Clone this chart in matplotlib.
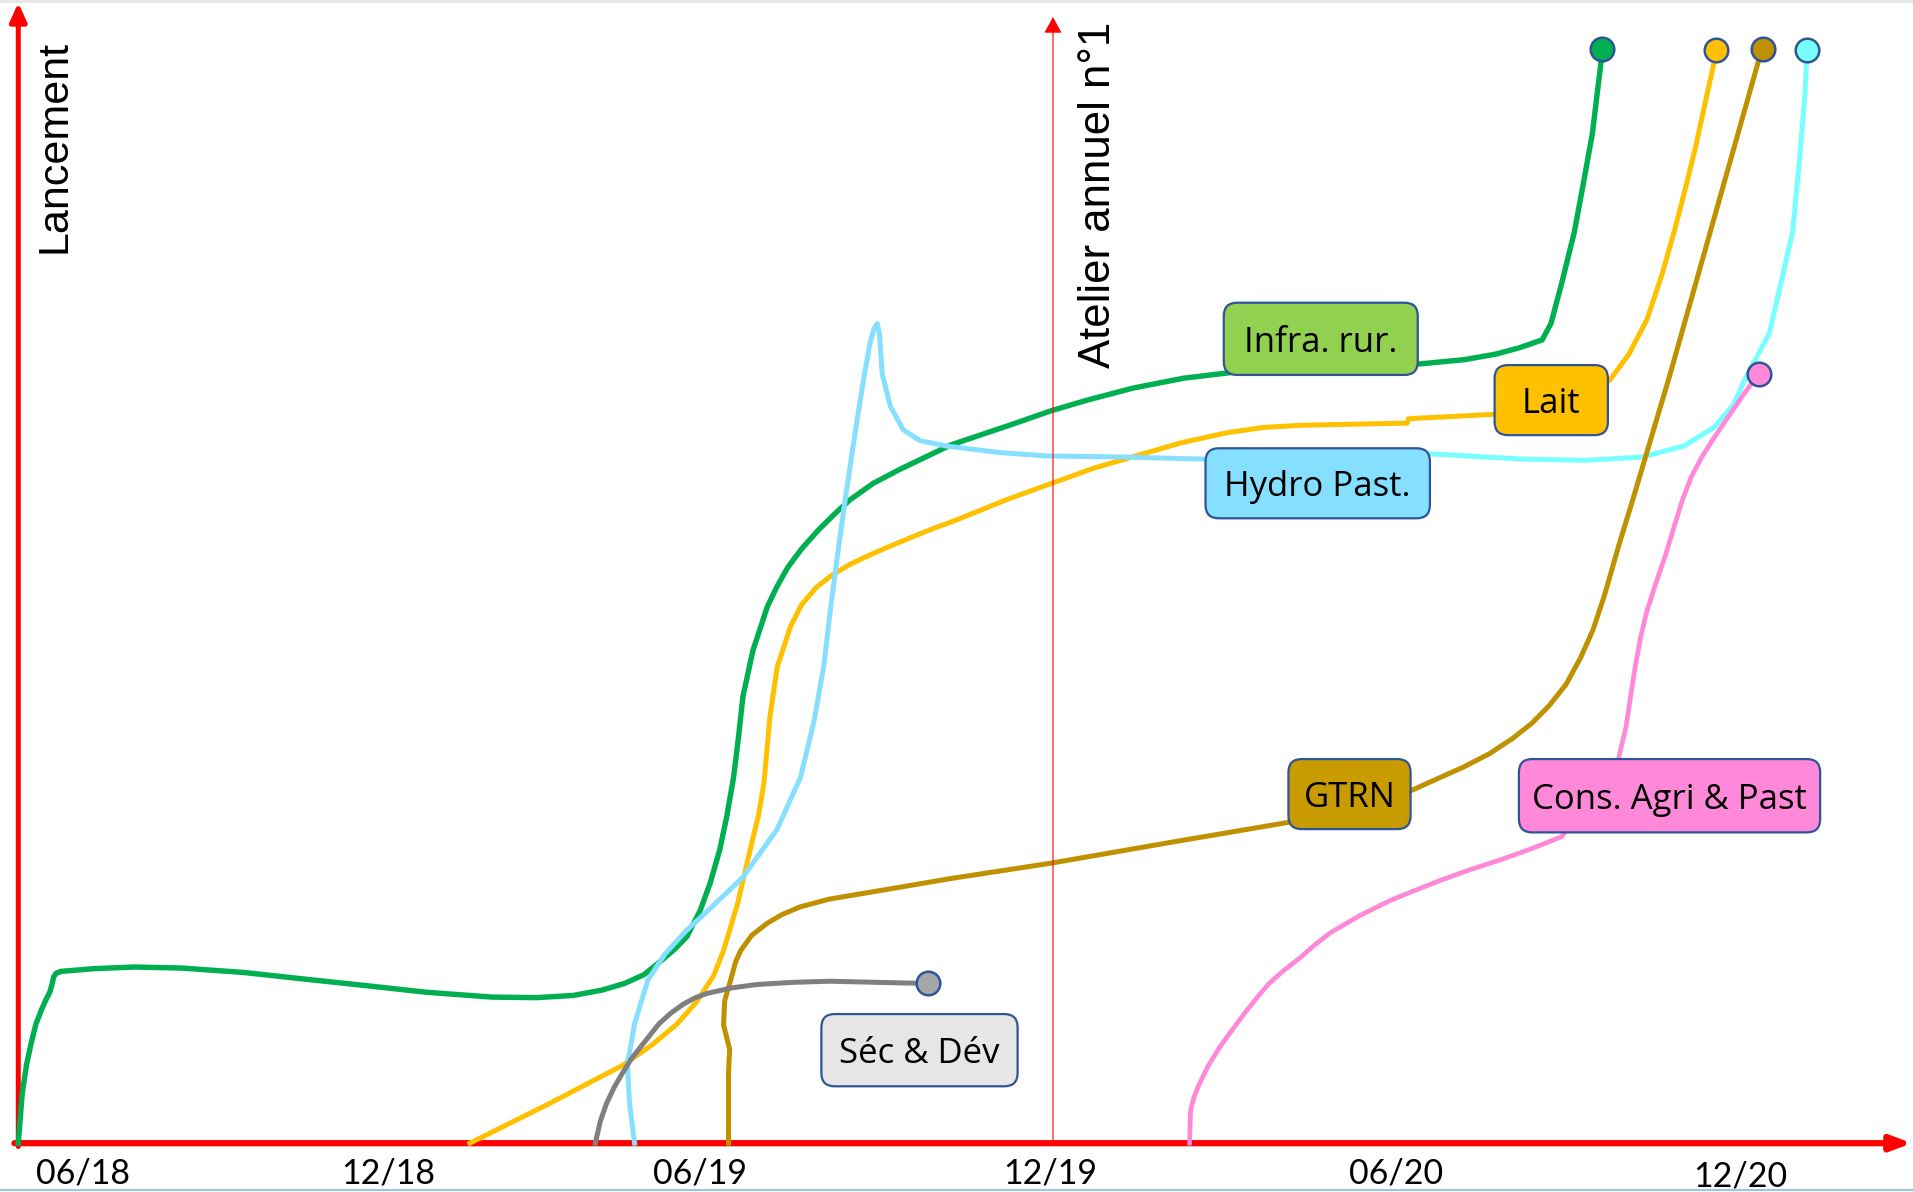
import matplotlib.pyplot as plt
from matplotlib.patches import FancyBboxPatch
from matplotlib.lines import Line2D

# axe x : mois depuis 06/18, axe y : avancement (%)
tick_labels = ['06/18', '12/18', '06/19', '12/19', '06/20', '12/20']
tick_pos = [0, 5.52, 11.17, 17.50, 23.75, 29.98]

infra_x = [-1.17, -1.10, -1.02, -0.93, -0.85, -0.75, -0.68, -0.60, -0.56, -0.53, -0.48, -0.40,
           0.2, 0.93, 1.8, 2.91, 4.0, 5.12, 6.2, 7.40, 8.2, 8.87, 9.40, 9.80, 10.15, 10.42, 10.70,
           10.93, 11.17, 11.35, 11.52, 11.65, 11.77, 11.86, 11.94, 12.12, 12.38, 12.55, 12.75,
           13.0, 13.3, 13.6, 13.88, 14.3, 14.79, 15.70, 16.82, 17.5, 18.17, 19.0, 19.91, 21.24,
           22.7, 24.17, 25.0, 25.56, 26.0, 26.40, 26.56, 26.75, 26.98, 27.15, 27.31, 27.48]
infra_y = [0, 4.5, 7.2, 9.3, 10.9, 12.2, 13.0, 13.8, 14.5, 15.2, 15.55, 15.7,
           15.95, 16.1, 16.0, 15.6, 15.0, 14.4, 13.8, 13.35, 13.3, 13.5, 14.0, 14.6, 15.4, 16.5, 17.7,
           18.9, 21.3, 23.8, 26.8, 29.9, 33.4, 37.1, 40.8, 45.0, 49.0, 50.8, 52.6,
           54.3, 56.0, 57.5, 58.8, 60.3, 61.6, 63.8, 65.7, 66.9, 67.9, 69.0, 69.9, 70.7,
           71.0, 71.2, 71.6, 72.1, 72.7, 73.4, 74.9, 78.5, 83.2, 87.8, 92.3, 99.4]

lait_x = [7.00, 8.43, 9.76, 10.3, 10.75, 11.1, 11.41, 11.59, 11.85, 12.07, 12.22, 12.32, 12.43,
          12.56, 12.80, 13.0, 13.27, 13.55, 13.88, 14.3, 14.72, 15.25, 15.83, 16.71, 17.53,
          18.30, 19.05, 19.87, 20.68, 21.35, 22.03, 23.0, 23.96, 23.98, 25.52, 26.56, 27.62,
          27.97, 28.30, 28.57, 28.79, 28.96, 29.18, 29.36, 29.54]
lait_y = [0, 3.6, 7.1, 9.0, 10.9, 12.9, 15.3, 17.6, 22.0, 26.8, 29.9, 32.9, 39.0,
          43.5, 47.2, 49.2, 50.8, 51.9, 52.9, 53.9, 54.8, 55.9, 57.0, 58.8, 60.3,
          61.7, 62.8, 64.0, 64.9, 65.4, 65.6, 65.7, 65.8, 66.2, 66.6, 67.7, 69.7,
          72.1, 75.3, 79.4, 83.3, 86.6, 91.1, 95.3, 99.4]

hydro_x = [9.98, 9.89, 9.85, 9.98, 10.22, 10.53, 10.93, 11.17, 11.94, 12.56, 12.98, 13.22,
           13.40, 13.51, 13.64, 13.79, 13.97, 14.13, 14.24, 14.31, 14.37, 14.41, 14.46, 14.61,
           14.84, 15.14, 15.63, 16.60, 17.44, 18.81, 20.35, 22.34]
hydro_y = [0, 3.6, 7.2, 10.9, 14.9, 17.3, 19.5, 20.6, 24.3, 28.7, 33.4, 38.4,
           43.5, 48.2, 53.3, 58.8, 64.9, 70.0, 73.1, 74.4, 74.9, 74.0, 70.3, 67.3,
           65.2, 64.2, 63.7, 63.1, 62.8, 62.7, 62.5, 62.5]

hydro2_x = [22.34, 24.33, 26.09, 27.20, 28.21, 28.96, 29.51, 29.85, 30.09, 30.51, 30.73, 30.93,
            31.06, 31.15, 31.19]
hydro2_y = [62.8, 63.0, 62.5, 62.4, 62.7, 63.7, 65.4, 67.4, 70.0, 74.0, 78.8, 83.2,
            90.0, 95.5, 99.4]

gtrn_x = [11.68, 11.68, 11.70, 11.59, 11.61, 11.74, 11.81, 11.90, 12.10, 12.38, 12.65, 12.98,
          13.5, 14.79, 15.72, 17.53, 19.69, 21.79, 22.91, 24.02, 24.99, 25.45, 25.87, 26.22,
          26.53, 26.83, 27.09, 27.32, 27.53, 27.78, 28.04, 28.70, 30.31]
gtrn_y = [0, 6.4, 8.6, 10.8, 13.0, 15.3, 16.6, 17.6, 19.0, 20.1, 20.9, 21.6,
          22.3, 23.4, 24.2, 25.6, 27.5, 29.3, 30.9, 32.2, 34.4, 35.6, 37.0, 38.4,
          40.0, 41.9, 44.3, 46.9, 50.1, 54.5, 58.8, 70.0, 98.8]

sec_x = [9.27, 9.36, 9.47, 9.61, 9.76, 9.92, 10.09, 10.42, 10.64, 10.86, 11.08, 11.30, 11.75,
         12.19, 12.85, 13.51, 15.21]
sec_y = [0, 2.0, 3.6, 5.1, 6.4, 7.7, 8.8, 10.9, 11.9, 12.7, 13.3, 13.7, 14.2,
         14.5, 14.7, 14.8, 14.6]

cons_x = [20.02, 20.03, 20.04, 20.10, 20.18, 20.35, 20.57, 20.80, 21.02, 21.24, 21.46, 21.73,
          22.01, 22.28, 22.56, 23.1, 23.66, 24.10, 24.55, 25.1, 25.65, 26.2, 26.75, 27.20, 27.64,
          27.79, 27.92, 28.0, 28.08, 28.18, 28.30, 28.46, 28.63, 28.78, 28.94, 29.10, 29.29,
          29.49, 29.69, 29.88, 30.07, 30.29]
cons_y = [0, 1.5, 3.0, 4.2, 5.2, 7.0, 8.8, 10.4, 11.9, 13.3, 14.6, 15.8,
          16.9, 18.1, 19.2, 20.8, 22.2, 23.1, 24.0, 25.0, 25.9, 26.9, 28.0, 30.9, 33.1,
          35.3, 38.1, 40.8, 43.4, 46.2, 48.7, 51.2, 53.7, 56.2, 58.8, 60.9, 62.7,
          64.3, 65.8, 67.2, 68.6, 70.1]

# points de fin
end_x = [27.48, 29.54, 30.40, 31.19, 30.33, 15.28]
end_y = [100, 99.9, 100, 99.9, 70.3, 14.6]
end_colors = ['#00B050', '#FFC000', '#BF9000', '#77FFFF', '#FF88D8', '#A6A6A6']

# étiquettes (texte, x0, x1, y0, y1, couleur)
lab_text = ['Infra. rur.', 'Lait', 'Hydro Past.', 'GTRN', 'Cons. Agri & Past', 'Séc & Dév']
lab_x0 = [20.64, 25.54, 20.31, 21.81, 25.98, 13.36]
lab_x1 = [24.15, 27.59, 24.37, 24.02, 31.43, 16.91]
lab_y0 = [70.2, 64.7, 57.1, 28.7, 28.4, 5.2]
lab_y1 = [76.8, 71.1, 63.5, 35.1, 35.1, 11.8]
lab_col = ['#92D050', '#FFC000', '#85DFFF', '#C89B00', '#FF88D8', '#E7E6E6']

fig = plt.figure(figsize=(19.13, 11.92), dpi=100)
ax = fig.add_axes([0, 0, 1, 1])
ax.set_xlim(-1.501, 33.11)
ax.set_ylim(-4.459, 104.46)
ax.axis('off')

# axes en rouge
ax.annotate('', xy=(33.09, 0), xytext=(-1.24, 0),
            arrowprops=dict(arrowstyle='-|>,head_length=1.2,head_width=0.45', mutation_scale=10,
                            color='#FF0000', lw=4.5, shrinkA=0, shrinkB=0), zorder=1)
ax.annotate('', xy=(-1.17, 104.2), xytext=(-1.17, -0.3),
            arrowprops=dict(arrowstyle='-|>,head_length=1.1,head_width=0.5', mutation_scale=10,
                            color='#FF0000', lw=3.6, shrinkA=0, shrinkB=0), zorder=1)
ax.annotate('', xy=(17.55, 102.9), xytext=(17.55, 0.3),
            arrowprops=dict(arrowstyle='-|>,head_length=1.0,head_width=0.55', mutation_scale=10,
                            color='#FF0000', lw=0.8, shrinkA=0, shrinkB=0), zorder=3)

ax.text(-0.51, 100.8, 'Lancement', rotation=90, ha='center', va='top',
        fontsize=31, family='Liberation Sans')
ax.text(18.37, 102.5, 'Atelier annuel n°1', rotation=90, ha='center', va='top',
        fontsize=31.5, family='Liberation Sans')

for i in range(len(tick_labels)):
    yb = -4.0 if tick_labels[i] == '12/20' else -3.68
    ax.text(tick_pos[i], yb, tick_labels[i], ha='center', va='baseline', fontsize=24.5, family='Lato')

ax.plot(infra_x, infra_y, color='#00B050', lw=3.9, zorder=2, solid_joinstyle='round')
ax.plot(lait_x, lait_y, color='#FFC000', lw=3.6, zorder=2, solid_joinstyle='round')
ax.plot(hydro_x, hydro_y, color='#87DFFF', lw=3.6, zorder=2, solid_joinstyle='round')
ax.plot(hydro2_x, hydro2_y, color='#77FFFF', lw=3.6, zorder=2, solid_joinstyle='round')
ax.plot(gtrn_x, gtrn_y, color='#BF9000', lw=3.6, zorder=2, solid_joinstyle='round')
ax.plot(sec_x, sec_y, color='#7F7F7F', lw=3.6, zorder=2, solid_joinstyle='round')
ax.plot(cons_x, cons_y, color='#FF88D8', lw=3.4, zorder=2, solid_joinstyle='round')

for i in range(len(end_x)):
    ax.plot(end_x[i], end_y[i], 'o', ms=17, mfc=end_colors[i], mec='#2F5597', mew=1.8, zorder=6)

for i in range(len(lab_text)):
    box = FancyBboxPatch((lab_x0[i], lab_y0[i]), lab_x1[i] - lab_x0[i], lab_y1[i] - lab_y0[i],
                         boxstyle='round,pad=0,rounding_size=0.24', mutation_aspect=5.05,
                         fc=lab_col[i], ec='#2F5597', lw=1.6, zorder=4)
    ax.add_patch(box)
    ax.text((lab_x0[i] + lab_x1[i]) / 2, (lab_y0[i] + lab_y1[i]) / 2, lab_text[i],
            ha='center', va='center_baseline', fontsize=25, family='Open Sans', zorder=5)

# bordures
fig.add_artist(Line2D([0, 1], [0.999, 0.999], transform=fig.transFigure, color='#E6E6E6', lw=2))
fig.add_artist(Line2D([0, 1], [0.0015, 0.0015], transform=fig.transFigure, color='#9DC3E6', lw=1.5))

fig.savefig('out.png', dpi=100)
